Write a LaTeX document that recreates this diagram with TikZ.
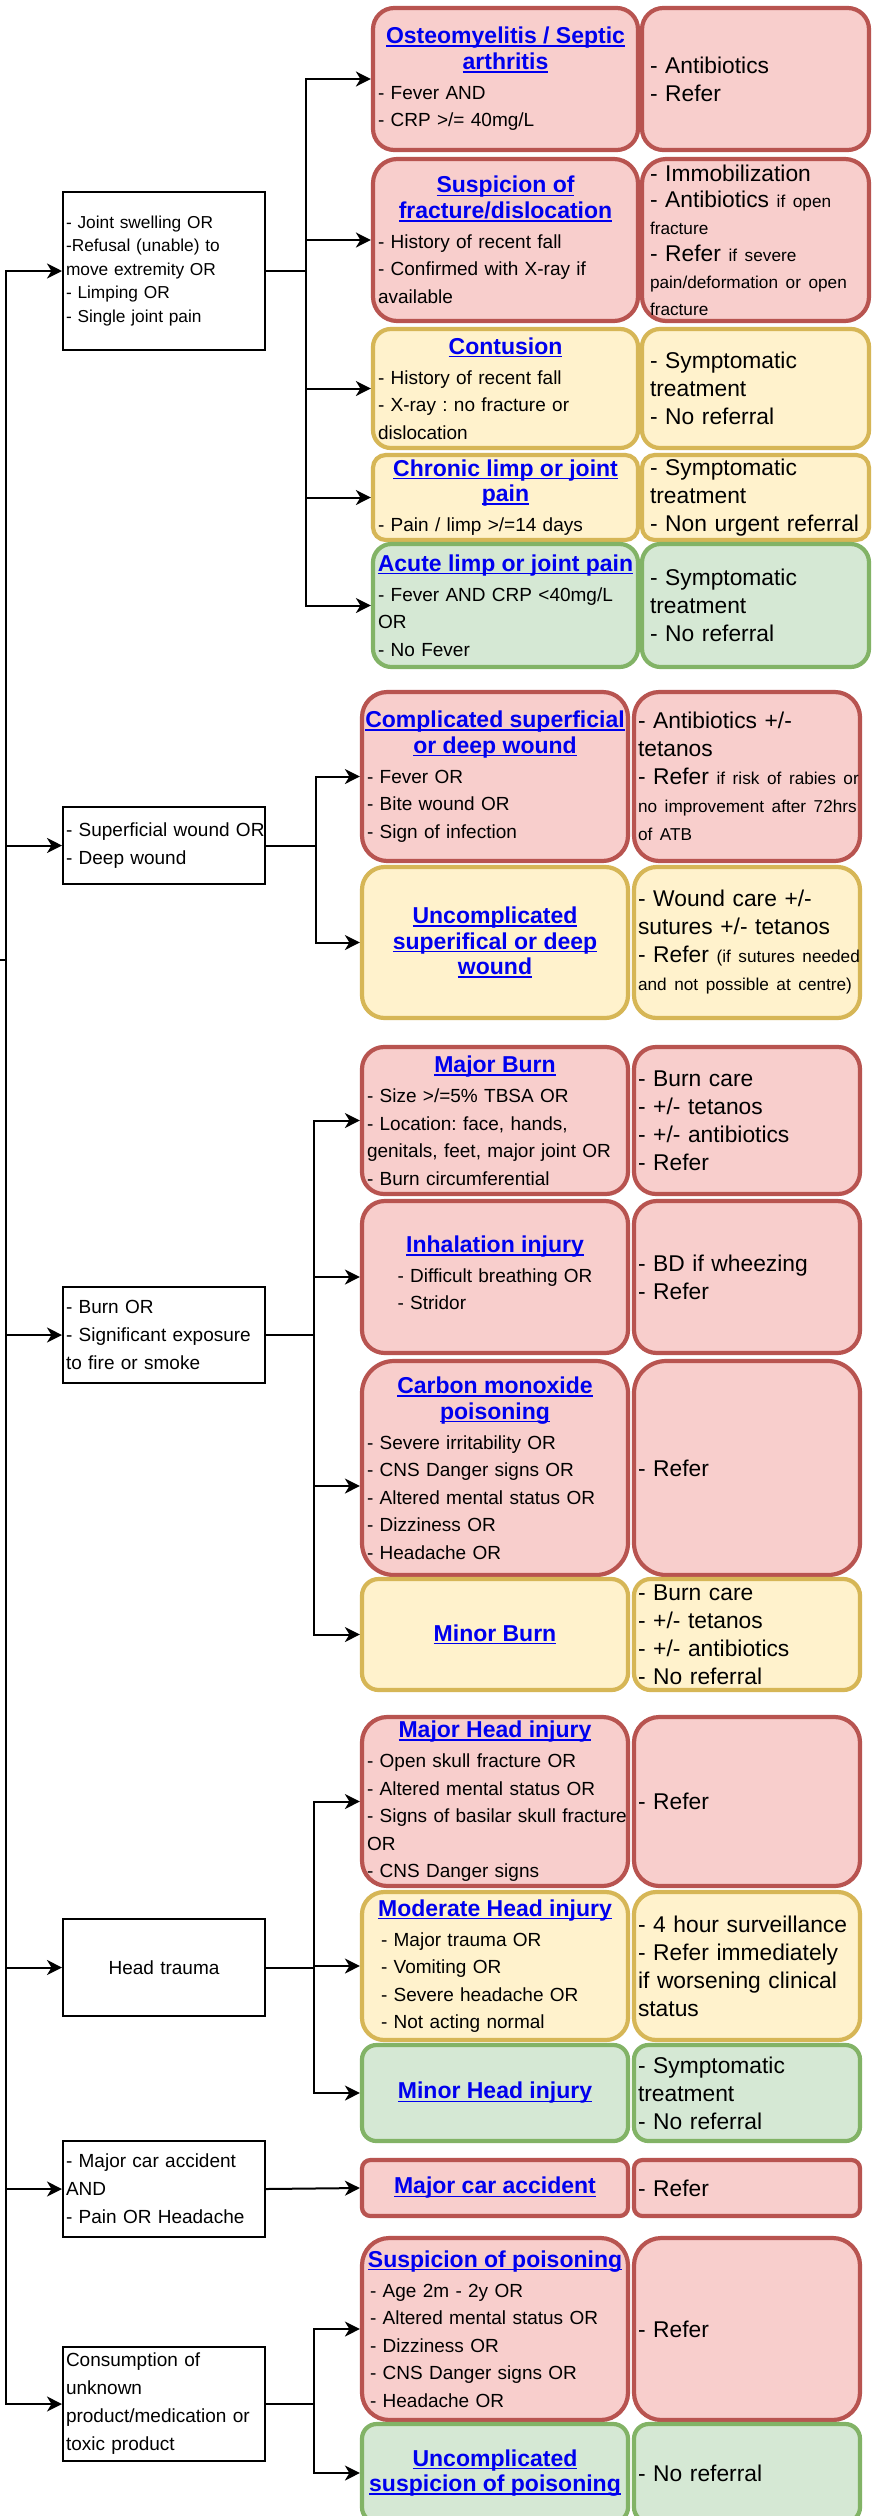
\documentclass[tikz,border=0pt]{standalone}
\usepackage{fontspec}
\setmainfont{Liberation Sans}
\usetikzlibrary{arrows.meta}

\definecolor{redfill}{HTML}{F8CECC}
\definecolor{redline}{HTML}{B85450}
\definecolor{yelfill}{HTML}{FFF2CC}
\definecolor{yelline}{HTML}{D6B656}
\definecolor{grnfill}{HTML}{D5E8D4}
\definecolor{grnline}{HTML}{82B366}
\definecolor{linkblue}{HTML}{0000EE}

\setlength{\parindent}{0pt}
\setlength{\parskip}{0pt}

% one blue underlined heading line
\newcommand{\ttl}[1]{\leavevmode{\fontsize{23}{25.5}\selectfont\bfseries\color{linkblue}%
  \setbox0=\hbox{#1}\rlap{\rule[-3.2pt]{\wd0}{1.6pt}}\box0}}
% centred heading block
\newcommand{\hd}[1]{{\centering\fontsize{23}{25.5}\selectfont #1\par}\vskip2.5pt\relax}
% smaller remark text
\newcommand{\sml}{\fontsize{17.2}{28}\selectfont}

% box from (x1,y1) to (x2,y2): [indent], style, name, x1, y1, x2, y2, text
\newcommand{\mkbox}[8][5]{%
  \pgfmathsetmacro\bxw{#6-#4}%
  \pgfmathsetmacro\bxh{#7-#5}%
  \pgfmathsetmacro\bxr{0.15*min(\bxw,\bxh)}%
  \pgfmathsetmacro\bxt{\bxw+40}%
  \pgfmathsetmacro\bxcx{(#4+#6)/2}%
  \pgfmathsetmacro\bxcy{(#5+#7)/2}%
  \pgfmathsetmacro\bxl{20+#1}%
  \node[minimum width=\bxw pt, minimum height=\bxh pt, text width=\bxt pt,
        inner xsep=-20pt, inner ysep=1pt, align=left, rounded corners=\bxr pt, #2]
        (#3) at (\bxcx,\bxcy) {\leftskip=\bxl pt\relax #8\par};%
}

\tikzset{
  cell/.style={draw, line width=4.2pt, font=\fontsize{19}{27.5}\selectfont},
  redc/.style={cell, fill=redfill, draw=redline},
  yelc/.style={cell, fill=yelfill, draw=yelline},
  grnc/.style={cell, fill=grnfill, draw=grnline},
  act/.style={font=\fontsize{22.8}{28}\selectfont},
  inbox/.style={draw=black, line width=2pt, fill=white, sharp corners,
                font=\fontsize{19}{28}\selectfont},
  conn/.style={line width=2pt, -{Stealth[length=15pt,width=15pt,inset=4.5pt]}},
}

\begin{document}
\frenchspacing
\begin{tikzpicture}[x=1pt, y=-1pt]
\useasboundingbox (0,0) rectangle (875,2516);
\fill[white] (0,0) rectangle (875,2516);

% ---------- entry boxes ----------
\mkbox[3]{inbox, font=\fontsize{17.3}{23.5}\selectfont}{in1}{63}{192}{265}{350}{- Joint swelling OR\\-Refusal (unable) to\\move extremity OR\\- Limping OR\\- Single joint pain}
\mkbox[3]{inbox}{in2}{63}{807}{265}{884}{- Superficial wound OR\\- Deep wound}
\mkbox[3]{inbox}{in3}{63}{1287}{265}{1383}{- Burn OR\\- Significant exposure\\to fire or smoke}
\mkbox[3]{inbox}{in4}{63}{1919}{265}{2016}{{\centering Head trauma\par}}
\mkbox[3]{inbox}{in5}{63}{2141}{265}{2237}{- Major car accident\\AND\\- Pain OR Headache}
\mkbox[3]{inbox}{in6}{63}{2347}{265}{2461}{Consumption of\\unknown\\product/medication or\\toxic product}

% ---------- joint problems ----------
\mkbox{redc}{osteo}{373}{8}{638}{150}{\hd{\ttl{Osteomyelitis / Septic}\\\ttl{arthritis}}
- Fever AND\\- CRP >/= 40mg/L}
\mkbox[8]{redc, act}{osteoR}{642}{8}{869}{150}{- Antibiotics\\- Refer}

\mkbox{redc}{frac}{373}{159}{638}{321}{\hd{\ttl{Suspicion of}\\\ttl{fracture/dislocation}}
- History of recent fall\\- Confirmed with X-ray if\\available}
\mkbox[8]{redc, act, font=\fontsize{22.8}{26.8}\selectfont}{fracR}{642}{159}{869}{321}{- Immobilization\\- Antibiotics {\sml if open}\\{\sml fracture}\\- Refer {\sml if severe}\\{\sml pain/deformation or open}\\{\sml fracture}}

\mkbox{yelc}{contu}{373}{329}{638}{448}{\hd{\ttl{Contusion}}
- History of recent fall\\- X-ray : no fracture or\\dislocation}
\mkbox[8]{yelc, act}{contuR}{642}{329}{869}{448}{- Symptomatic\\treatment\\- No referral}

\mkbox{yelc}{chron}{373}{455}{638}{540}{\hd{\ttl{Chronic limp or joint}\\\ttl{pain}}
- Pain / limp >/=14 days}
\mkbox[8]{yelc, act}{chronR}{642}{455}{869}{540}{- Symptomatic\\treatment\\- Non urgent referral}

\mkbox{grnc}{acute}{373}{544}{638}{667}{\hd{\ttl{Acute limp or joint pain}}
- Fever AND CRP <40mg/L\\OR\\- No Fever}
\mkbox[8]{grnc, act}{acuteR}{642}{544}{869}{667}{- Symptomatic\\treatment\\- No referral}

% ---------- wounds ----------
\mkbox{redc}{comp}{362}{692}{628}{861}{\hd{\ttl{Complicated superficial}\\\ttl{or deep wound}}
- Fever OR\\- Bite wound OR\\- Sign of infection}
\mkbox[4]{redc, act}{compR}{634}{692}{860}{861}{- Antibiotics +/-\\tetanos\\- Refer {\sml if risk of rabies or}\\{\sml no improvement after 72hrs}\\{\sml of ATB}}

\mkbox{yelc}{uncomp}{362}{867}{628}{1018}{\hd{\ttl{Uncomplicated}\\\ttl{superifical or deep}\\\ttl{wound}}}
\mkbox[4]{yelc, act}{uncompR}{634}{867}{860}{1018}{- Wound care +/-\\sutures +/- tetanos\\- Refer {\sml (if sutures needed}\\{\sml and not possible at centre)}}

% ---------- burns ----------
\mkbox{redc}{mburn}{362}{1047}{628}{1194}{\hd{\ttl{Major Burn}}
- Size >/=5\% TBSA OR\\- Location: face, hands,\\genitals, feet, major joint OR\\- Burn circumferential}
\mkbox[4]{redc, act}{mburnR}{634}{1047}{860}{1194}{- Burn care\\- +/- tetanos\\- +/- antibiotics\\- Refer}

\mkbox{redc}{inhal}{362}{1201}{628}{1353}{\hd{\ttl{Inhalation injury}}
{\centering\begin{tabular}[t]{@{}l@{}}- Difficult breathing OR\\- Stridor\end{tabular}\par}}
\mkbox[4]{redc, act}{inhalR}{634}{1201}{860}{1353}{- BD if wheezing\\- Refer}

\mkbox{redc}{carbon}{362}{1361}{628}{1575}{\hd{\ttl{Carbon monoxide}\\\ttl{poisoning}}
- Severe irritability OR\\- CNS Danger signs OR\\- Altered mental status OR\\- Dizziness OR\\- Headache OR}
\mkbox[4]{redc, act}{carbonR}{634}{1361}{860}{1575}{- Refer}

\mkbox{yelc}{minburn}{362}{1579}{628}{1690}{\hd{\ttl{Minor Burn}}}
\mkbox[4]{yelc, act}{minburnR}{634}{1579}{860}{1690}{- Burn care\\- +/- tetanos\\- +/- antibiotics\\- No referral}

% ---------- head trauma ----------
\mkbox{redc}{mhead}{362}{1717}{628}{1886}{\hd{\ttl{Major Head injury}}
- Open skull fracture OR\\- Altered mental status OR\\- Signs of basilar skull fracture\\OR\\- CNS Danger signs}
\mkbox[4]{redc, act}{mheadR}{634}{1717}{860}{1886}{- Refer}

\mkbox{yelc}{modhead}{362}{1892}{628}{2040}{\hd{\ttl{Moderate Head injury}}
\hspace*{14pt}- Major trauma OR\\\hspace*{14pt}- Vomiting OR\\\hspace*{14pt}- Severe headache OR\\\hspace*{14pt}- Not acting normal}
\mkbox[4]{yelc, act}{modheadR}{634}{1892}{860}{2040}{- 4 hour surveillance\\- Refer immediately\\if worsening clinical\\status}

\mkbox{grnc}{minhead}{362}{2045}{628}{2141}{\hd{\ttl{Minor Head injury}}}
\mkbox[4]{grnc, act}{minheadR}{634}{2045}{860}{2141}{- Symptomatic\\treatment\\- No referral}

% ---------- car accident ----------
\mkbox{redc}{car}{362}{2160}{628}{2216}{\hd{\ttl{Major car accident}}}
\mkbox[4]{redc, act}{carR}{634}{2160}{860}{2216}{- Refer}

% ---------- poisoning ----------
\mkbox[8]{redc}{poison}{362}{2238}{628}{2420}{\hd{\ttl{Suspicion of poisoning}}
- Age 2m - 2y OR\\- Altered mental status OR\\- Dizziness OR\\- CNS Danger signs OR\\- Headache OR}
\mkbox[4]{redc, act}{poisonR}{634}{2238}{860}{2420}{- Refer}

\mkbox{grnc}{upoison}{362}{2424}{628}{2522}{\hd{\ttl{Uncomplicated}\\\ttl{suspicion of poisoning}}}
\mkbox[4]{grnc, act}{upoisonR}{634}{2424}{860}{2522}{- No referral}

% ---------- connectors ----------
\coordinate (entry) at (0,960);
\coordinate (trunk) at (6,960);
\coordinate (busA) at (306,0);
\coordinate (busB) at (316,0);
\coordinate (busC) at (314,0);

\foreach \n in {in1,in2,in3,in4,in5,in6}
  \draw[conn] (entry) -- (trunk) |- (\n.west);

\foreach \t in {osteo,frac,contu,chron,acute}
  \draw[conn] (in1.east) -- (in1.east -| busA) |- (\t.west);

\foreach \t in {comp,uncomp}
  \draw[conn] (in2.east) -- (in2.east -| busB) |- (\t.west);

\foreach \t in {mburn,inhal,minburn}
  \draw[conn] (in3.east) -- (in3.east -| busC) |- (\t.west);
\draw[conn] (in3.east) -- (in3.east -| busC) |- ([yshift=-18pt]carbon.west);

\foreach \t in {mhead,modhead,minhead}
  \draw[conn] (in4.east) -- (in4.east -| busC) |- (\t.west);

\draw[conn] (in5.east) -- (car.west);

\foreach \t in {poison,upoison}
  \draw[conn] (in6.east) -- (in6.east -| busC) |- (\t.west);

\end{tikzpicture}
\end{document}
